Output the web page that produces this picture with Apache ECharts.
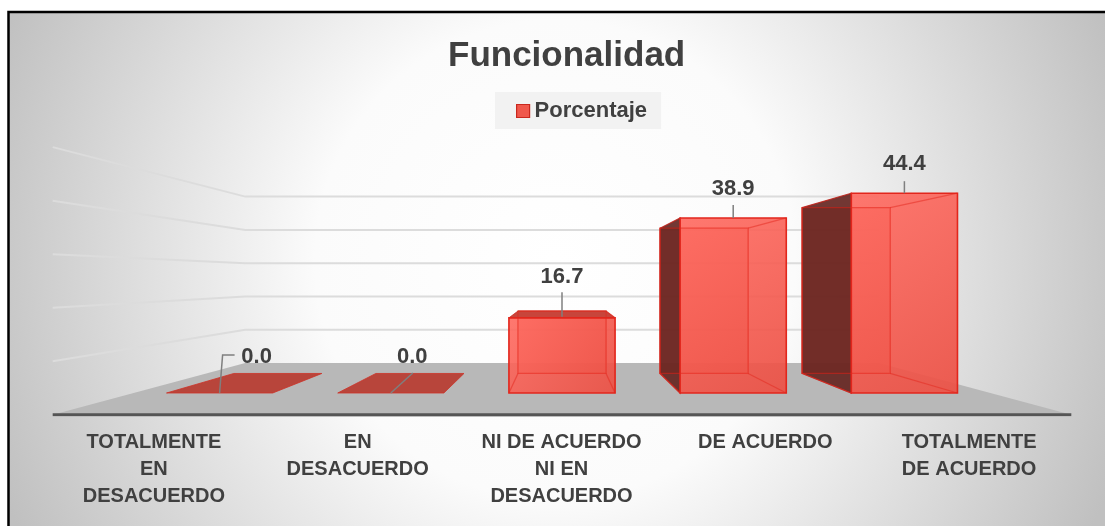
<!DOCTYPE html>
<html><head><meta charset="utf-8">
<script src="https://cdn.jsdelivr.net/npm/echarts@6/dist/echarts.min.js"></script>
<style>html,body{margin:0;padding:0;background:#fff}#c{width:1105px;height:526px}</style>
</head><body><div id="c"></div>
<script>
// ---- data ----
const categories = ['TOTALMENTE\nEN\nDESACUERDO', 'EN\nDESACUERDO', 'NI DE ACUERDO\nNI EN\nDESACUERDO', 'DE ACUERDO', 'TOTALMENTE\nDE ACUERDO'];
const seriesName = 'Porcentaje';
const porcentaje = [0.0, 0.0, 16.7, 38.9, 44.4];
const gridValues = [10, 20, 30, 40, 50];
const axisMin = 0, axisMax = 50, axisStep = 10;

// ---- layout (perspective constants, not data) ----
const S_BACK = 0.83, S_WALL = 0.74, S_FLOOR = 1.19, VP_FRAC = 0.489, BAR_W = 0.62;
const labelDx = [37, 21.5, 0, 0, 0];
const labelDy = [-36.5, -36.5, -41, -29.5, -29.5];
const leaderPts = [[[0,0],[3,-38],[15,-38]], [[0,0],[22,-20]], [[0,-1],[0,-25.5]], [[0,0],[0,-13]], [[0,0],[0,-12]]];
const FONT = '"Liberation Sans", Arial, sans-serif';

function vp(cs) { return [cs.x + cs.width / 2, cs.y + cs.height * VP_FRAC]; }
function proj(cs, x, y, s) { const v = vp(cs); return [v[0] + (x - v[0]) * s, v[1] + (y - v[1]) * s]; }
function poly(points, style) { return { type: 'polygon', shape: { points }, style }; }
function line(points, style) { return { type: 'polyline', shape: { points }, style: Object.assign({ fill: null }, style) }; }

const chart = echarts.init(document.getElementById('c'), null, { renderer: 'canvas' });

const option = {
  animation: false,
  backgroundColor: '#ffffff',
  graphic: [{
    type: 'rect', z: -10, silent: true,
    shape: { x: 8.5, y: 12, width: 1110, height: 540 },
    style: {
      fill: new echarts.graphic.RadialGradient(555, 260, 600, [
        { offset: 0, color: '#ffffff' }, { offset: 0.4, color: '#fbfbfb' }, { offset: 1, color: '#c0c0c0' }], true),
      stroke: '#000', lineWidth: 2.5
    }
  }],
  title: {
    text: 'Funcionalidad', left: 443, top: 34,
    textStyle: { fontSize: 35, fontWeight: 'bold', color: '#404040', fontFamily: FONT }
  },
  legend: {
    data: [seriesName], left: 495, top: 92,
    backgroundColor: '#f2f2f2', padding: [8, 14, 7, 21],
    itemWidth: 13, itemHeight: 13, icon: 'rect',
    itemStyle: { color: '#f0584c', borderColor: '#c9281e', borderWidth: 1.2 },
    textStyle: { fontSize: 22, fontWeight: 'bold', color: '#404040', fontFamily: FONT }
  },
  grid: [
    { left: 134, right: 115, top: 168, bottom: 133 },
    { left: 52, right: 34, top: 168, bottom: 111 }
  ],
  xAxis: [
    { type: 'category', data: categories, gridIndex: 0, show: false },
    { type: 'category', data: categories, gridIndex: 1,
      axisLine: { show: false }, axisTick: { show: false }, splitLine: { show: false },
      axisLabel: { interval: 0, margin: 14, fontSize: 20, fontWeight: 'bold', lineHeight: 27,
        color: '#404040', fontFamily: FONT } }
  ],
  yAxis: [
    { type: 'value', gridIndex: 0, min: axisMin, max: axisMax, interval: axisStep, show: false },
    { type: 'value', gridIndex: 1, min: 0, max: 1, show: false }
  ],
  series: [
    { // floor
      type: 'custom', xAxisIndex: 0, yAxisIndex: 0, z: 1, clip: false, silent: true,
      data: [[0, axisMin]],
      renderItem(params, api) {
        const cs = params.coordSys;
        const y0 = api.coord([0, axisMin])[1];
        const xl = cs.x, xr = cs.x + cs.width;
        const a = proj(cs, xl, y0, S_WALL), b = proj(cs, xr, y0, S_WALL);
        const c = proj(cs, xr, y0, S_FLOOR), d = proj(cs, xl, y0, S_FLOOR);
        return { type: 'group', children: [
          poly([a, b, c, d], { fill: '#b8b8b8' }),
          line([[d[0], d[1] + 1.5], [c[0], c[1] + 1.5]], { stroke: '#e0e0e0', lineWidth: 1.5 }),
          line([d, c], { stroke: '#555555', lineWidth: 3 })
        ] };
      }
    },
    { // gridlines (back wall + left wall)
      type: 'custom', xAxisIndex: 0, yAxisIndex: 0, z: 1, clip: false, silent: true,
      data: gridValues.map(v => [0, v]),
      renderItem(params, api) {
        const cs = params.coordSys;
        const y = api.coord([0, api.value(1)])[1];
        const xl = cs.x, xr = cs.x + cs.width;
        const a = proj(cs, xl, y, S_WALL), b = proj(cs, xr, y, S_WALL), f = proj(cs, xl, y, S_FLOOR);
        return { type: 'group', children: [
          line([f, a, b], { stroke: '#dcdcdc', lineWidth: 2 })
        ] };
      }
    },
    { // 3D bars
      name: seriesName, type: 'custom', xAxisIndex: 0, yAxisIndex: 0, z: 3, clip: false,
      itemStyle: { color: '#f0584c' },
      data: porcentaje.map((v, i) => [i, v]),
      encode: { x: 0, y: 1 },
      renderItem(params, api) {
        const cs = params.coordSys;
        const i = api.value(0), v = api.value(1);
        const base = api.coord([i, axisMin]), top = api.coord([i, v]);
        const bw = api.size([1, 0])[0] * BAR_W;
        const xl = base[0] - bw / 2, xr = base[0] + bw / 2, y0 = base[1], y1 = top[1];
        const V = vp(cs);
        const F = { tl: [xl, y1], tr: [xr, y1], br: [xr, y0], bl: [xl, y0] };
        const B = { tl: proj(cs, xl, y1, S_BACK), tr: proj(cs, xr, y1, S_BACK),
                    br: proj(cs, xr, y0, S_BACK), bl: proj(cs, xl, y0, S_BACK) };
        const ch = [];
        const h = y0 - y1;
        if (h > 0.5) {
          ch.push(poly([B.tl, B.tr, B.br, B.bl], { fill: 'rgba(235,75,62,0.6)', stroke: 'rgba(225,40,30,0.8)', lineWidth: 1.2 }));
          if (xl > V[0]) ch.push(poly([B.tl, F.tl, F.bl, B.bl], { fill: 'rgba(100,34,30,0.9)', stroke: 'rgba(190,35,28,0.9)', lineWidth: 1.2 }));
          if (xr < V[0]) ch.push(poly([F.tr, B.tr, B.br, F.br], { fill: 'rgba(100,34,30,0.9)', stroke: 'rgba(190,35,28,0.9)', lineWidth: 1.2 }));
        }
        if (y1 > V[1]) ch.push(poly([B.tl, B.tr, F.tr, F.tl], { fill: h > 0.5 ? '#c8453b' : '#b8453b', stroke: 'rgba(205,50,40,0.8)', lineWidth: 1 }));
        if (h > 0.5) {
          ch.push(poly([F.tl, F.tr, F.br, F.bl], {
            fill: new echarts.graphic.LinearGradient(0, 0, 1, 1, [{ offset: 0, color: 'rgba(255,106,96,0.9)' }, { offset: 1, color: 'rgba(236,80,68,0.92)' }]),
            stroke: '#e2261c', lineWidth: 1.6 }));
          const ec = { stroke: 'rgba(228,40,30,0.5)', lineWidth: 1.3 };
          ch.push(line([B.tl, B.tr, B.br, B.bl, B.tl], ec));
          ch.push(line([B.tr, F.tr], ec), line([B.br, F.br], ec), line([B.bl, F.bl], ec));
        }
        // leader + label
        const ax = base[0], ay = y1;
        const pts = leaderPts[i].map(p => [ax + p[0], ay + p[1]]);
        ch.push(line(pts, { stroke: '#7f7f7f', lineWidth: 1.5 }));
        ch.push({ type: 'text', style: { text: v.toFixed(1), x: ax + labelDx[i], y: ay + labelDy[i],
          align: 'center', verticalAlign: 'middle', fill: '#404040', font: 'bold 22px ' + FONT } });
        return { type: 'group', children: ch };
      }
    }
  ]
};
chart.setOption(option);
</script>
</body></html>
